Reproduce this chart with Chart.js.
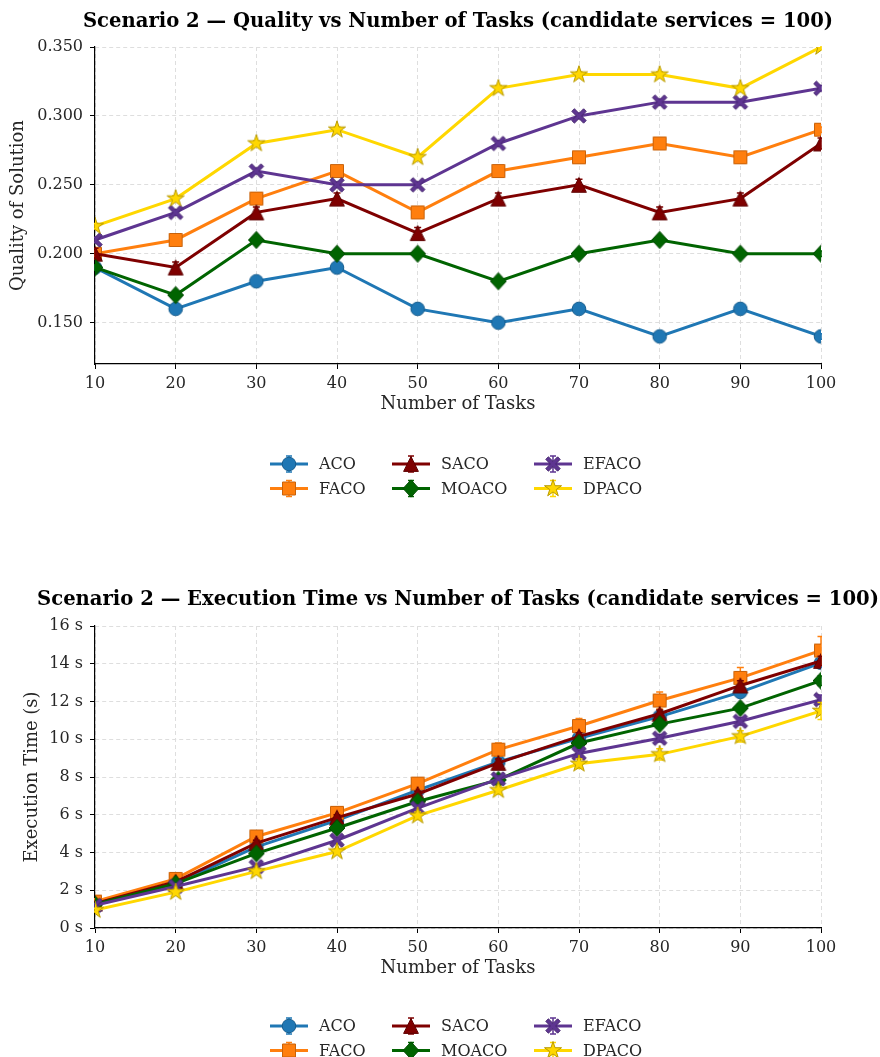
<!DOCTYPE html>
<html><head><meta charset="utf-8">
<script src="https://cdn.jsdelivr.net/npm/chart.js@4.4.0/dist/chart.umd.min.js"></script>
<style>
html,body{margin:0;padding:0;background:#fff;}
#wrap{width:880px;height:1057px;position:relative;overflow:hidden;background:#fff}
.box{position:absolute;left:0;width:880px}
</style></head><body>
<div id="wrap">
<div class="box" style="top:0;height:528px"><canvas id="c1" width="880" height="528"></canvas></div>
<div class="box" style="top:528px;height:529px"><canvas id="c2" width="880" height="529"></canvas></div>
</div>
<script>
// ---------- data ----------
const tasks = [10, 20, 30, 40, 50, 60, 70, 80, 90, 100];
const taskTicks = [10, 20, 30, 40, 50, 60, 70, 80, 90, 100];
const qualityTicks = [0.15, 0.20, 0.25, 0.30, 0.35];
const timeTicks = [0, 2, 4, 6, 8, 10, 12, 14, 16];
const algorithms = ['ACO', 'FACO', 'SACO', 'MOACO', 'EFACO', 'DPACO'];

const qualityACO   = [0.19, 0.16, 0.18, 0.19, 0.16, 0.15, 0.16, 0.14, 0.16, 0.14];
const qualityFACO  = [0.20, 0.21, 0.24, 0.26, 0.23, 0.26, 0.27, 0.28, 0.27, 0.29];
const qualitySACO  = [0.20, 0.19, 0.23, 0.24, 0.215, 0.24, 0.25, 0.23, 0.24, 0.28];
const qualityMOACO = [0.19, 0.17, 0.21, 0.20, 0.20, 0.18, 0.20, 0.21, 0.20, 0.20];
const qualityEFACO = [0.21, 0.23, 0.26, 0.25, 0.25, 0.28, 0.30, 0.31, 0.31, 0.32];
const qualityDPACO = [0.22, 0.24, 0.28, 0.29, 0.27, 0.32, 0.33, 0.33, 0.32, 0.35];

const qualityErrACO   = [0.002, 0.002, 0.002, 0.002, 0.002, 0.002, 0.002, 0.002, 0.002, 0.002];
const qualityErrFACO  = [0.002, 0.002, 0.002, 0.002, 0.002, 0.002, 0.002, 0.002, 0.002, 0.002];
const qualityErrSACO  = [0.004, 0.004, 0.004, 0.004, 0.004, 0.004, 0.004, 0.004, 0.004, 0.004];
const qualityErrMOACO = [0.002, 0.002, 0.002, 0.002, 0.002, 0.002, 0.002, 0.002, 0.002, 0.002];
const qualityErrEFACO = [0.002, 0.002, 0.002, 0.002, 0.002, 0.002, 0.002, 0.002, 0.002, 0.002];
const qualityErrDPACO = [0.002, 0.002, 0.002, 0.002, 0.002, 0.002, 0.002, 0.002, 0.002, 0.002];

const timeACO   = [1.25, 2.35, 4.3, 5.7, 7.3, 8.8, 10.05, 11.2, 12.5, 14.05];
const timeFACO  = [1.4, 2.6, 4.85, 6.1, 7.65, 9.45, 10.7, 12.05, 13.25, 14.7];
const timeSACO  = [1.3, 2.45, 4.5, 5.85, 7.1, 8.75, 10.15, 11.35, 12.85, 14.15];
const timeMOACO = [1.25, 2.35, 3.95, 5.3, 6.7, 7.85, 9.8, 10.8, 11.65, 13.1];
const timeEFACO = [1.2, 2.2, 3.25, 4.65, 6.35, 7.9, 9.25, 10.05, 10.95, 12.1];
const timeDPACO = [0.95, 1.9, 3.0, 4.05, 5.95, 7.3, 8.7, 9.2, 10.15, 11.5];

const timeErrACO   = [0.1, 0.1, 0.15, 0.15, 0.15, 0.2, 0.2, 0.2, 0.25, 0.25];
const timeErrFACO  = [0.15, 0.15, 0.2, 0.2, 0.25, 0.35, 0.4, 0.45, 0.55, 0.75];
const timeErrSACO  = [0.1, 0.1, 0.15, 0.15, 0.15, 0.2, 0.2, 0.2, 0.25, 0.25];
const timeErrMOACO = [0.1, 0.1, 0.1, 0.15, 0.15, 0.15, 0.2, 0.2, 0.2, 0.25];
const timeErrEFACO = [0.1, 0.1, 0.1, 0.15, 0.15, 0.15, 0.2, 0.2, 0.2, 0.25];
const timeErrDPACO = [0.1, 0.1, 0.15, 0.15, 0.2, 0.2, 0.25, 0.3, 0.3, 0.45];

// ---------- styles ----------
const STYLE = {
  ACO:   {color: '#1f77b4', edge: '#175d8e', marker: 'circle'},
  FACO:  {color: '#ff7f0e', edge: '#c8620a', marker: 'square'},
  SACO:  {color: '#7f0000', edge: '#5e0000', marker: 'triangle'},
  MOACO: {color: '#006400', edge: '#004a00', marker: 'diamond'},
  EFACO: {color: '#5e3591', edge: '#46266e', marker: 'x'},
  DPACO: {color: '#ffd700', edge: '#b89a00', marker: 'star'}
};
const SERIF = '"DejaVu Serif", serif';
const TEXT = '#262626';
const TITLE_FONT = 'bold 19.6px "DejaVu Serif", serif';
const TICK_SIZE = 16;
const LABEL_SIZE = 18;

function markerPath(ctx, shape, x, y) {
  ctx.beginPath();
  if (shape === 'circle') {
    ctx.arc(x, y, 6.8, 0, Math.PI * 2);
  } else if (shape === 'square') {
    ctx.rect(x - 6.5, y - 6.5, 13, 13);
  } else if (shape === 'triangle') {
    const r = 7.4;
    ctx.moveTo(x, y - r); ctx.lineTo(x + r, y + r); ctx.lineTo(x - r, y + r); ctx.closePath();
  } else if (shape === 'diamond') {
    const r = 8.6;
    ctx.moveTo(x, y - r); ctx.lineTo(x + r * 0.92, y); ctx.lineTo(x, y + r); ctx.lineTo(x - r * 0.92, y); ctx.closePath();
  } else if (shape === 'x') {
    const w = 2.6, L = 7.2;
    const pts = [[w,0],[L,L-w],[L-w,L],[0,w],[-(L-w),L],[-L,L-w],[-w,0],[-L,-(L-w)],[-(L-w),-L],[0,-w],[L-w,-L],[L,-(L-w)]];
    pts.forEach((p, i) => { i ? ctx.lineTo(x + p[0], y + p[1]) : ctx.moveTo(x + p[0], y + p[1]); });
    ctx.closePath();
  } else if (shape === 'star') {
    const R = 9, r = R * 0.382;
    for (let i = 0; i < 10; i++) {
      const a = -Math.PI / 2 + i * Math.PI / 5;
      const rr = i % 2 ? r : R;
      const px = x + rr * Math.cos(a), py = y + rr * Math.sin(a);
      i ? ctx.lineTo(px, py) : ctx.moveTo(px, py);
    }
    ctx.closePath();
  }
}
function drawMarker(ctx, name, x, y) {
  const s = STYLE[name];
  markerPath(ctx, s.marker, x, y);
  ctx.fillStyle = s.color; ctx.fill();
  ctx.lineWidth = 1; ctx.strokeStyle = s.edge; ctx.stroke();
}
function markerImage(name) {
  const c = document.createElement('canvas');
  c.width = 22; c.height = 22;
  drawMarker(c.getContext('2d'), name, 11, 11);
  return c;
}
const markerImages = {};
algorithms.forEach(n => markerImages[n] = markerImage(n));

// ---------- plugins ----------
const errorBarPlugin = {
  id: 'errorBars',
  beforeDatasetDraw(chart, args) {
    const ds = chart.data.datasets[args.index];
    if (!ds.errors) return;
    const ctx = chart.ctx, xs = chart.scales.x, ys = chart.scales.y, a = chart.chartArea;
    ctx.save();
    ctx.beginPath(); ctx.rect(a.left - 1, a.top - 1, a.right - a.left + 2, a.bottom - a.top + 2); ctx.clip();
    ctx.strokeStyle = ds.borderColor; ctx.lineWidth = 1.5;
    ds.data.forEach((p, j) => {
      const e = ds.errors[j];
      const px = xs.getPixelForValue(p.x);
      const y1 = ys.getPixelForValue(p.y - e), y2 = ys.getPixelForValue(p.y + e);
      ctx.beginPath();
      ctx.moveTo(px, y1); ctx.lineTo(px, y2);
      ctx.moveTo(px - 3.5, y1); ctx.lineTo(px + 3.5, y1);
      ctx.moveTo(px - 3.5, y2); ctx.lineTo(px + 3.5, y2);
      ctx.stroke();
    });
    ctx.restore();
  }
};
const titleLegendPlugin = {
  id: 'titleLegend',
  afterDraw(chart, args, opts) {
    const ctx = chart.ctx, a = chart.chartArea;
    const cx = (a.left + a.right) / 2;
    ctx.save();
    ctx.font = TITLE_FONT; ctx.fillStyle = '#000';
    ctx.textAlign = 'center'; ctx.textBaseline = 'middle';
    ctx.fillText(opts.title, cx, opts.titleY);
    // legend, matplotlib column-major order, 3 columns x 2 rows
    const colOffsets = [-188, -66, 76];
    const rowY = [a.bottom + opts.legendGap, a.bottom + opts.legendGap + 24.5];
    ctx.font = '16px ' + SERIF; ctx.textAlign = 'left';
    chart.data.datasets.forEach((ds, i) => {
      const col = Math.floor(i / 2), row = i % 2;
      const x0 = cx + colOffsets[col], y = rowY[row];
      const s = STYLE[ds.label];
      ctx.strokeStyle = s.color; ctx.lineWidth = 3; ctx.lineCap = 'butt';
      ctx.beginPath(); ctx.moveTo(x0, y); ctx.lineTo(x0 + 38, y); ctx.stroke();
      ctx.lineWidth = 1.5;
      ctx.beginPath(); ctx.moveTo(x0 + 19, y - 8); ctx.lineTo(x0 + 19, y + 8);
      ctx.moveTo(x0 + 16, y - 8); ctx.lineTo(x0 + 22, y - 8);
      ctx.moveTo(x0 + 16, y + 8); ctx.lineTo(x0 + 22, y + 8); ctx.stroke();
      drawMarker(ctx, ds.label, x0 + 19, y);
      ctx.fillStyle = TEXT;
      ctx.fillText(ds.label, x0 + 49, y + 1);
    });
    ctx.restore();
  }
};

function gridOpts() {
  return {color: '#dedede', lineWidth: 1,
          tickColor: '#000', tickLength: 5, tickWidth: 1, tickBorderDash: [], drawTicks: true};
}
function borderOpts() {
  return {display: true, color: '#000', width: 1.2, dash: [4, 3]};
}

function makeChart(id, cfg) {
  const datasets = algorithms.map((name, i) => ({
    label: name,
    data: cfg.values[i].map((v, j) => ({x: tasks[j], y: v})),
    errors: cfg.errors[i],
    borderColor: STYLE[name].color,
    backgroundColor: STYLE[name].color,
    borderWidth: 3,
    pointStyle: markerImages[name],
    pointRadius: 7, pointHoverRadius: 7,
    tension: 0,
    order: algorithms.length - i
  }));
  return new Chart(document.getElementById(id), {
    type: 'line',
    data: {datasets},
    plugins: [errorBarPlugin, titleLegendPlugin],
    options: {
      responsive: false, animation: false, devicePixelRatio: 1,
      layout: {padding: {top: cfg.padTop, right: 59, bottom: cfg.padBottom, left: 0}},
      plugins: {
        legend: {display: false}, title: {display: false}, tooltip: {enabled: false},
        titleLegend: {title: cfg.title, titleY: cfg.titleY, legendGap: cfg.legendGap}
      },
      scales: {
        x: {
          type: 'linear', min: 10, max: 100,
          afterBuildTicks: s => { s.ticks = taskTicks.map(v => ({value: v})); },
          afterFit: s => { s.height = 60; },
          grid: gridOpts(),
          border: borderOpts(),
          ticks: {font: {family: SERIF, size: TICK_SIZE}, color: TEXT, padding: 5, maxRotation: 0, autoSkip: false,
                  callback: v => String(v)},
          title: {display: true, text: 'Number of Tasks', font: {family: SERIF, size: LABEL_SIZE}, color: TEXT,
                  padding: {top: 0, bottom: 9}}
        },
        y: {
          type: 'linear', min: cfg.yMin, max: cfg.yMax,
          afterBuildTicks: s => { s.ticks = cfg.yTicks.map(v => ({value: v})); },
          afterFit: s => { s.width = 95; },
          grid: gridOpts(),
          border: borderOpts(),
          ticks: {font: {family: SERIF, size: TICK_SIZE}, color: TEXT, padding: 7, autoSkip: false,
                  callback: cfg.yFormat},
          title: {display: true, text: cfg.yTitle, font: {family: SERIF, size: LABEL_SIZE}, color: TEXT,
                  padding: {top: cfg.yTitlePad, bottom: 0}}
        }
      }
    }
  });
}

makeChart('c1', {
  title: 'Scenario 2 \u2014 Quality vs Number of Tasks (candidate services = 100)',
  titleY: 22, padTop: 47, padBottom: 104, legendGap: 100,
  values: [qualityACO, qualityFACO, qualitySACO, qualityMOACO, qualityEFACO, qualityDPACO],
  errors: [qualityErrACO, qualityErrFACO, qualityErrSACO, qualityErrMOACO, qualityErrEFACO, qualityErrDPACO],
  yMin: 0.12, yMax: 0.35, yTicks: qualityTicks, yFormat: v => v.toFixed(3),
  yTitle: 'Quality of Solution', yTitlePad: 8
});
makeChart('c2', {
  title: 'Scenario 2 \u2014 Execution Time vs Number of Tasks (candidate services = 100)',
  titleY: 72, padTop: 98, padBottom: 69, legendGap: 98,
  values: [timeACO, timeFACO, timeSACO, timeMOACO, timeEFACO, timeDPACO],
  errors: [timeErrACO, timeErrFACO, timeErrSACO, timeErrMOACO, timeErrEFACO, timeErrDPACO],
  yMin: 0, yMax: 16, yTicks: timeTicks, yFormat: v => v + ' s',
  yTitle: 'Execution Time (s)', yTitlePad: 22
});
</script>
</body></html>
